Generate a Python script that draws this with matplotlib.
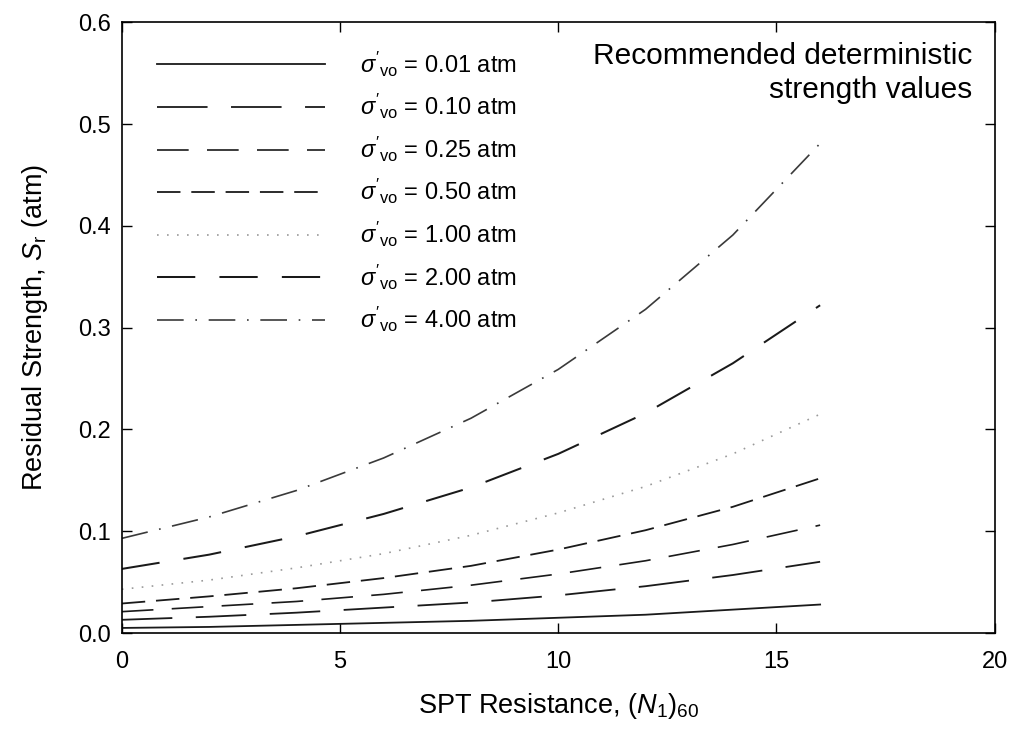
import matplotlib
matplotlib.use("Agg")
import matplotlib.pyplot as plt

plt.rcParams['font.family'] = ['Liberation Sans', 'DejaVu Sans']
plt.rcParams['mathtext.fontset'] = 'custom'
plt.rcParams['mathtext.rm'] = 'Liberation Sans'
plt.rcParams['mathtext.it'] = 'Liberation Sans:italic'
plt.rcParams['mathtext.bf'] = 'Liberation Sans:bold'

# SPT resistance values where curves were read
n160 = [0, 2, 4, 6, 8, 10, 12, 14, 16]

# Residual strength (atm), by effective stress
sr_001 = [0.005, 0.006, 0.008, 0.010, 0.012, 0.015, 0.018, 0.023, 0.028]
sr_010 = [0.013, 0.016, 0.020, 0.025, 0.030, 0.037, 0.046, 0.057, 0.070]
sr_025 = [0.021, 0.026, 0.031, 0.038, 0.047, 0.058, 0.071, 0.087, 0.106]
sr_050 = [0.029, 0.036, 0.044, 0.054, 0.066, 0.082, 0.101, 0.124, 0.152]
sr_100 = [0.043, 0.052, 0.064, 0.078, 0.096, 0.118, 0.144, 0.176, 0.215]
sr_200 = [0.063, 0.077, 0.095, 0.117, 0.143, 0.176, 0.216, 0.265, 0.322]
sr_400 = [0.093, 0.114, 0.140, 0.172, 0.211, 0.259, 0.318, 0.391, 0.481]

labels = ["0.01", "0.10", "0.25", "0.50", "1.00", "2.00", "4.00"]
series = [sr_001, sr_010, sr_025, sr_050, sr_100, sr_200, sr_400]

styles = [
    dict(color='#1a1a1a', lw=1.3, ls='-'),
    dict(color='#1a1a1a', lw=1.3, ls=(0, (28, 13))),
    dict(color='#1a1a1a', lw=1.2, ls=(0, (19, 11))),
    dict(color='#1a1a1a', lw=1.3, ls=(0, (13, 6))),
    dict(color='#9a9a9a', lw=1.2, ls=(0, (1, 5))),
    dict(color='#1a1a1a', lw=1.45, ls=(0, (19, 12))),
    dict(color='#3a3a3a', lw=1.2, ls=(0, (16, 7, 1, 7))),
]

fig = plt.figure(figsize=(10.15, 7.43), dpi=100)
ax = fig.add_axes([0.120, 0.148, 0.860, 0.822])

for lab, ys, st in zip(labels, series, styles):
    ax.plot(n160, ys, label=r"$\sigma'_{\mathrm{vo}}$ = " + lab + " atm", **st)

ax.set_xlim(0, 20)
ax.set_ylim(0, 0.6)
ax.set_xticks([0, 5, 10, 15, 20])
ax.set_yticks([0.0, 0.1, 0.2, 0.3, 0.4, 0.5, 0.6])
ax.set_yticklabels([f"{v:.1f}" for v in [0.0, 0.1, 0.2, 0.3, 0.4, 0.5, 0.6]])
ax.tick_params(direction='in', length=7, width=1, labelsize=17, top=True, right=True)
ax.tick_params(axis='x', pad=13)
ax.tick_params(axis='y', pad=8)
for s in ax.spines.values():
    s.set_linewidth(1.2)

ax.set_xlabel(r"SPT Resistance, $(\mathit{N}_{1})_{60}$", fontsize=19.5, labelpad=13)
ax.set_ylabel(r"Residual Strength, $\mathit{S}_{\mathrm{r}}$ (atm)", fontsize=19.5, labelpad=20)

ax.text(0.974, 0.968, "Recommended deterministic\nstrength values", transform=ax.transAxes,
        ha='right', va='top', fontsize=21.5, linespacing=1.3)

ax.legend(loc='upper left', bbox_to_anchor=(0.016, 0.990), frameon=False, fontsize=17,
          handlelength=7.1, handletextpad=1.5, labelspacing=0.57)

fig.savefig("out.png", dpi=100)
